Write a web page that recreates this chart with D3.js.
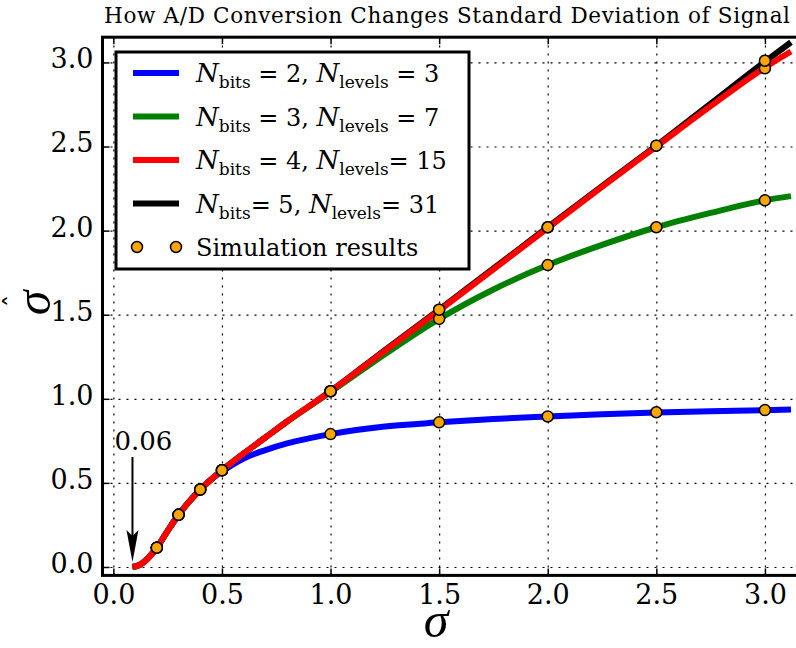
<!DOCTYPE html>
<html>
<head>
    <meta charset="UTF-8">
    <title>A/D Conversion and Standard Deviation</title>
    <script src="https://d3js.org/d3.v7.min.js"></script>
    <style>
        body { margin: 0; background: white; }
        text { font-family: "DejaVu Serif", serif; fill: black; }
        .title { font-family: "DejaVu Serif", serif; font-size: 21.5px; }
        .tick text { font-family: "DejaVu Serif", serif; font-size: 27px; }
        .grid line { stroke: black; stroke-width: 1.2; stroke-dasharray: 2,6; }
        .grid path { display: none; }
        .ticks path { display: none; }
        .ticks line { stroke: black; stroke-width: 1.5; }
        .legend-text { font-size: 24px; }
        .axis-label { font-family: "Liberation Serif", serif; font-style: italic; font-size: 50px; }
    </style>
</head>
<body>
<div id="my_dataviz"></div>
<script>
    // curve samples
    const sigmaCurve = [0.088, 0.12, 0.15, 0.2, 0.25, 0.3, 0.35, 0.4, 0.45, 0.5, 0.6, 0.7, 0.8, 0.9, 1.0,
        1.25, 1.5, 1.75, 2.0, 2.25, 2.5, 2.75, 3.0, 3.12];
    const curve2bits = [0, 0.012, 0.04, 0.115, 0.215, 0.31, 0.39, 0.46, 0.52, 0.567, 0.645, 0.695, 0.735, 0.765, 0.79,
        0.835, 0.86, 0.88, 0.895, 0.908, 0.918, 0.926, 0.932, 0.936];
    const curve3bits = [0, 0.012, 0.04, 0.115, 0.215, 0.31, 0.39, 0.46, 0.52, 0.575, 0.675, 0.77, 0.865, 0.953, 1.04,
        1.265, 1.475, 1.65, 1.795, 1.915, 2.02, 2.105, 2.18, 2.205];
    const curve4bits = [0, 0.012, 0.04, 0.115, 0.215, 0.31, 0.39, 0.46, 0.52, 0.575, 0.675, 0.77, 0.865, 0.955, 1.045,
        1.285, 1.525, 1.77, 2.015, 2.26, 2.5, 2.74, 2.97, 3.065];
    const curve5bits = [0, 0.012, 0.04, 0.115, 0.215, 0.31, 0.39, 0.46, 0.52, 0.575, 0.675, 0.77, 0.865, 0.955, 1.045,
        1.29, 1.53, 1.775, 2.02, 2.265, 2.505, 2.755, 3.005, 3.12];

    // simulation results
    const sigmaSim = [0.2, 0.3, 0.4, 0.5, 1.0, 1.5, 2.0, 2.5, 3.0];
    const sim2bits = [0.115, 0.31, 0.46, 0.575, 0.79, 0.86, 0.895, 0.92, 0.933];
    const sim3bits = [0.115, 0.31, 0.46, 0.575, 1.045, 1.475, 1.795, 2.02, 2.18];
    const sim4bits = [0.115, 0.31, 0.46, 0.575, 1.045, 1.53, 2.02, 2.505, 2.965];
    const sim5bits = [0.115, 0.31, 0.46, 0.575, 1.045, 1.53, 2.02, 2.505, 3.01];

    const nBits = [2, 3, 4, 5];
    const nLevels = [3, 7, 15, 31];
    const bitsEq = [" = ", " = ", " = ", "= "];
    const levelsEq = [" = ", " = ", "= ", "= "];
    const colors = ["#0000ff", "#008000", "#ff0000", "#000000"];

    const tickValues = [0, 0.5, 1.0, 1.5, 2.0, 2.5, 3.0];
    const titleText = "How A/D Conversion Changes Standard Deviation of Signal";
    const noteText = "0.06";

    const width = 796;
    const height = 648;
    const marginTop = 37.2;
    const marginRight = -1.5;
    const marginBottom = 72.6;
    const marginLeft = 102.5;
    const chartWidth = width - marginLeft - marginRight;
    const chartHeight = height - marginTop - marginBottom;

    const svg = d3.select('#my_dataviz')
        .append('svg')
        .attr('width', width)
        .attr('height', height);

    const x = d3.scaleLinear().domain([-0.05, 3.15]).range([0, chartWidth]);
    const y = d3.scaleLinear().domain([-0.05, 3.15]).range([chartHeight, 0]);

    const g = svg.append('g')
        .attr('transform', `translate(${marginLeft}, ${marginTop})`);

    // grid
    g.append('g').attr('class', 'grid')
        .attr('transform', `translate(0, ${chartHeight})`)
        .call(d3.axisBottom(x).tickValues(tickValues).tickSize(-chartHeight).tickFormat(''));
    g.append('g').attr('class', 'grid')
        .call(d3.axisLeft(y).tickValues(tickValues).tickSize(-chartWidth).tickFormat(''));

    // inward ticks
    g.append('g').attr('class', 'ticks')
        .attr('transform', `translate(0, ${chartHeight})`)
        .call(d3.axisBottom(x).tickValues(tickValues).tickSizeInner(-7).tickSizeOuter(0)
            .tickPadding(9).tickFormat(d3.format('.1f')));
    g.append('g').attr('class', 'ticks')
        .call(d3.axisTop(x).tickValues(tickValues).tickSizeInner(-7).tickSizeOuter(0).tickFormat(''));
    const yAxis = g.append('g').attr('class', 'ticks')
        .call(d3.axisLeft(y).tickValues(tickValues).tickSizeInner(-7).tickSizeOuter(0)
            .tickPadding(9).tickFormat(d3.format('.1f')));
    yAxis.selectAll('text').attr('dy', '0.2em');

    // curves
    const line = d3.line()
        .x((d, i) => x(sigmaCurve[i]))
        .y(d => y(d))
        .curve(d3.curveMonotoneX);

    const drawOrder = [3, 0, 1, 2];
    const curves = [curve2bits, curve3bits, curve4bits, curve5bits];
    drawOrder.forEach(k => {
        g.append('path')
            .datum(curves[k])
            .attr('d', line)
            .attr('fill', 'none')
            .attr('stroke', colors[k])
            .attr('stroke-width', 6);
    });

    // simulation markers
    [sim2bits, sim3bits, sim4bits, sim5bits].forEach(series => {
        g.selectAll(null)
            .data(series)
            .enter()
            .append('circle')
            .attr('cx', (d, i) => x(sigmaSim[i]))
            .attr('cy', d => y(d))
            .attr('r', 5.5)
            .attr('fill', '#ffa500')
            .attr('stroke', 'black')
            .attr('stroke-width', 1.5);
    });

    // annotation arrow
    const tipX = x(0.088), tipY = y(0.03), tailY = y(0.654);
    g.append('line')
        .attr('x1', tipX).attr('x2', tipX)
        .attr('y1', tailY).attr('y2', tipY - 20)
        .attr('stroke', 'black').attr('stroke-width', 2);
    g.append('path')
        .attr('d', `M${tipX},${tipY} L${tipX - 6},${tipY - 32} L${tipX},${tipY - 26} L${tipX + 6},${tipY - 32} Z`)
        .attr('fill', 'black');
    g.append('text')
        .attr('x', x(0.005))
        .attr('y', y(0.695))
        .style('font-size', '26px')
        .text(noteText);

    // frame
    g.append('rect')
        .attr('width', chartWidth)
        .attr('height', chartHeight)
        .attr('fill', 'none')
        .attr('stroke', 'black')
        .attr('stroke-width', 3);

    // legend
    const legend = svg.append('g');
    legend.append('rect')
        .attr('x', 116).attr('y', 52)
        .attr('width', 353).attr('height', 217)
        .attr('fill', 'white')
        .attr('stroke', 'black')
        .attr('stroke-width', 3);

    const rowY = i => 73 + i * 43.5;
    nBits.forEach((b, i) => {
        legend.append('line')
            .attr('x1', 133).attr('x2', 179)
            .attr('y1', rowY(i)).attr('y2', rowY(i))
            .attr('stroke', colors[i])
            .attr('stroke-width', 6);
        const t = legend.append('text')
            .attr('class', 'legend-text')
            .attr('x', 196)
            .attr('y', rowY(i) + 9);
        t.append('tspan').style('font-style', 'italic').style('font-size', '26px').text('N');
        t.append('tspan').attr('dy', 6).style('font-size', '17px').text('bits');
        t.append('tspan').attr('dy', -6).text(bitsEq[i] + b + ', ');
        t.append('tspan').style('font-style', 'italic').style('font-size', '26px').text('N');
        t.append('tspan').attr('dy', 6).style('font-size', '17px').text('levels');
        t.append('tspan').attr('dy', -6).text(levelsEq[i] + nLevels[i]);
    });
    [137, 176].forEach(cx => {
        legend.append('circle')
            .attr('cx', cx).attr('cy', rowY(4))
            .attr('r', 5.5)
            .attr('fill', '#ffa500')
            .attr('stroke', 'black')
            .attr('stroke-width', 1.5);
    });
    legend.append('text')
        .attr('class', 'legend-text')
        .attr('x', 196)
        .attr('y', rowY(4) + 9)
        .text('Simulation results');

    // title and axis labels
    svg.append('text')
        .attr('class', 'title')
        .attr('x', 447)
        .attr('y', 23)
        .attr('text-anchor', 'middle')
        .attr('textLength', 686)
        .attr('lengthAdjust', 'spacing')
        .text(titleText);

    svg.append('text')
        .attr('class', 'axis-label')
        .attr('x', 436)
        .attr('y', 637)
        .attr('text-anchor', 'middle')
        .text('σ');

    const yLabel = svg.append('g')
        .attr('transform', 'translate(50, 303) rotate(-90)');
    yLabel.append('text')
        .attr('class', 'axis-label')
        .attr('text-anchor', 'middle')
        .text('σ');
    yLabel.append('text')
        .attr('text-anchor', 'middle')
        .attr('x', 2)
        .attr('y', -26)
        .style('font-size', '26px')
        .style('font-family', '"DejaVu Sans", sans-serif')
        .text('ˆ');
</script>
</body>
</html>
